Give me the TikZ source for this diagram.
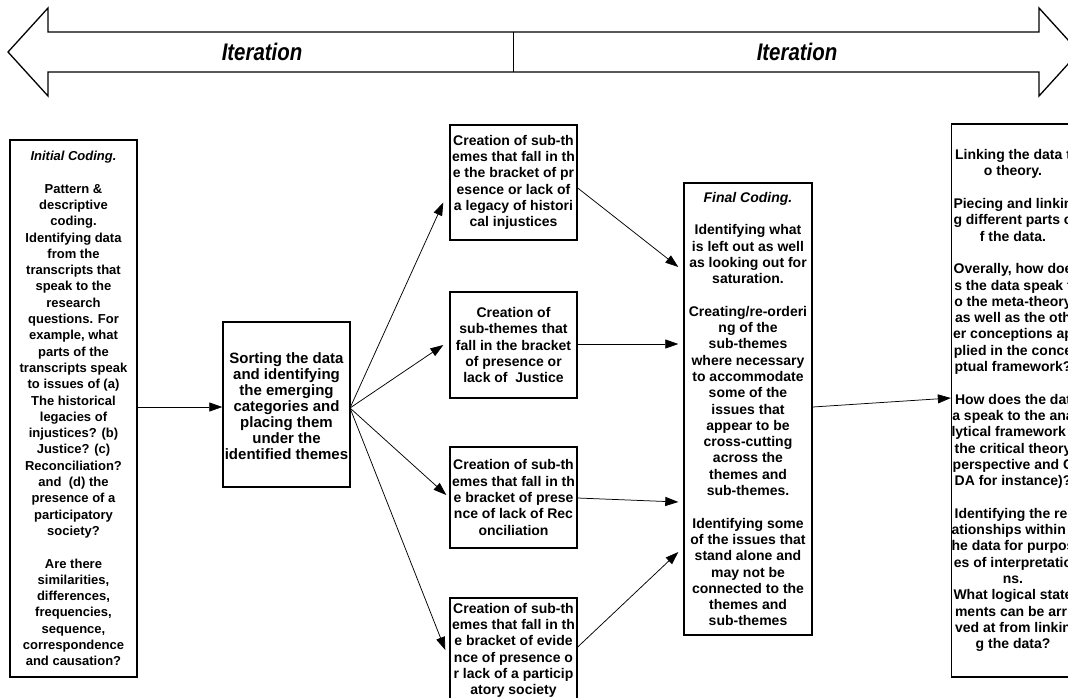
\documentclass[tikz,border=0pt]{standalone}
\usepackage{fontspec}
\setmainfont{Liberation Sans}
\usetikzlibrary{arrows.meta}
\tikzset{
  box/.style={draw, line width=1.4pt, rectangle, inner sep=0pt, align=center,
    font=\fontsize{14}{16.3}\selectfont\bfseries},
  smallbox/.style={box, font=\fontsize{13}{16.3}\selectfont\bfseries},
  bigbox/.style={box, font=\fontsize{15}{16}\selectfont\bfseries},
  arr/.style={line width=0.75pt, -{Triangle[length=13pt,width=9pt]}},
  itertext/.style={font=\fontsize{24}{28}\selectfont\bfseries\itshape},
  bigarrow/.style={draw, line width=1.3pt, fill=white, line join=miter}
}
\newcommand{\blankline}{\mbox{}\\}
\begin{document}
\begin{tikzpicture}[x=1pt,y=-1pt]
\useasboundingbox (0,0) rectangle (1068,697);
\clip (0,0) rectangle (1068,697);
\fill[white] (0,0) rectangle (1068,697);

% top double arrow
\draw[bigarrow] (8,52) -- (48,8) -- (48,32) -- (1039,32) -- (1039,8) -- (1079,52)
  -- (1039,96) -- (1039,72) -- (48,72) -- (48,96) -- cycle;
\coordinate (divtop) at (513,32);
\coordinate (divbot) at (513,72);
\draw[line width=0.8pt] (divtop) -- (divbot);
\node[itertext] (it1) at (262,52) {\scalebox{0.85}[1]{Iteration}};
\node[itertext] (it2) at (797,52) {\scalebox{0.85}[1]{Iteration}};

% boxes
\node[smallbox, minimum width=127pt, minimum height=537pt] (init) at (73.5,408.5) {%
\textit{Initial Coding.}\\ \blankline
Pattern \&\\ descriptive\\ coding.\\ Identifying data\\ from the\\ transcripts that\\
speak to the\\ research\\ questions. For\\ example, what\\ parts of the\\
transcripts speak\\ to issues of (a)\\ The historical\\ legacies of\\ injustices? (b)\\
Justice? (c)\\ Reconciliation?\\ and~ (d) the\\ presence of a\\ participatory\\ society?\\ \blankline
Are there\\ similarities,\\ differences,\\ frequencies,\\ sequence,\\ correspondence\\ and causation?};

\node[bigbox, minimum width=127pt, minimum height=165pt] (sort) at (286.5,404.5) {%
\rule{0pt}{14pt}Sorting the data\\ and identifying\\ the emerging\\ categories and\\ placing them\\ under the\\ identified themes};

\node[box, minimum width=127pt, minimum height=115pt] (s1) at (513.5,182.5) {%
Creation of sub-th\\ emes that fall in th\\ e the bracket of pr\\ esence or lack of\\ a legacy of histori\\ cal injustices};

\node[box, minimum width=127pt, minimum height=106pt] (s2) at (513.5,345) {%
Creation of\\ sub-themes that\\ fall in the bracket\\ of presence or\\ lack of~ Justice};

\node[box, minimum width=127pt, minimum height=101pt] (s3) at (513.5,497.5) {%
Creation of sub-th\\ emes that fall in th\\ e bracket of prese\\ nce of lack of Rec\\ onciliation};

\node[box, minimum width=127pt, minimum height=105pt] (s4) at (513.5,650.5) {%
Creation of sub-th\\ emes that fall in th\\ e bracket of evide\\ nce of presence o\\ r lack of a particip\\ atory society};

\node[box, minimum width=128pt, minimum height=452pt] (fin) at (748,409) {%
\textit{Final Coding.}\\ \blankline
Identifying what\\ is left out as well\\ as looking out for\\ saturation.\\ \blankline
Creating/re-orderi\\ ng of the\\ sub-themes\\ where necessary\\ to accommodate\\ some of the\\
issues that\\ appear to be\\ cross-cutting\\ across the\\ themes and\\ sub-themes.\\ \blankline
Identifying some\\ of the issues that\\ stand alone and\\ may not be\\ connected to the\\ themes and\\ sub-themes};

\node[box, minimum width=122pt, minimum height=553pt] (rbox) at (1013,400.5) {%
Linking the data t\\ o theory.\\ \blankline
Piecing and linkin\\ g different parts o\\ f the data.\\ \blankline
Overally, how doe\\ s the data speak t\\ o the meta-theory\\ as well as the oth\\ er conceptions ap\\ plied in the conce\\ ptual framework?\\ \blankline
How does the dat\\ a speak to the ana\\ lytical framework (\\ the critical theory\\ perspective and C\\ DA for instance)?\\ \blankline
Identifying the rel\\ ationships within t\\ he data for purpos\\ es of interpretatio\\ ns.\\
What logical state\\ ments can be arri\\ ved at from linkin\\ g the data?};

% connectors
\draw[arr] (init.east |- 0,407) -- (sort.west |- 0,407);
\coordinate (sfan) at (350,408);
\draw[arr] (sfan) -- ([shift={(-6,20)}]s1.west);
\draw[arr] (sfan) -- ([shift={(-6,0)}]s2.west);
\draw[arr] (sfan) -- ([shift={(-3,-2.5)}]s3.west);
\draw[arr] (sfan) -- ([shift={(-4,-0.5)}]s4.west);

\draw[arr] ([shift={(0,5.5)}]s1.east) -- ([shift={(-5,-142)}]fin.west);
\draw[arr] ([shift={(0,-1)}]s2.east) -- ([shift={(-5,-65)}]fin.west);
\draw[arr] ([shift={(0,0.5)}]s3.east) -- ([shift={(-5,93)}]fin.west);
\draw[arr] ([shift={(0,-3.5)}]s4.east) -- ([shift={(-5,143)}]fin.west);

\draw[arr] ([shift={(0,-2)}]fin.east) -- ([shift={(0,-2.5)}]rbox.west);
\end{tikzpicture}
\end{document}
